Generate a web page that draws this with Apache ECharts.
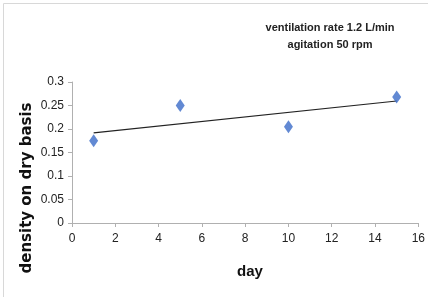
<!DOCTYPE html>
<html>
<head>
<meta charset="utf-8">
<script src="https://cdn.jsdelivr.net/npm/echarts@6/dist/echarts.min.js"></script>
<style>
html,body{margin:0;padding:0;background:#fff;}
#chart{width:428px;height:297px;}
</style>
</head>
<body>
<div id="chart"></div>
<script>
var days = [1, 5, 10, 15];
var density = [0.175, 0.25, 0.205, 0.268];
var xTicks = [0, 2, 4, 6, 8, 10, 12, 14, 16];
var yTicks = [0, 0.05, 0.1, 0.15, 0.2, 0.25, 0.3];
var note = ['ventilation rate 1.2 L/min', 'agitation 50 rpm'];

// linear trendline (least squares) from the points
var n = days.length, mx = 0, my = 0;
for (var i = 0; i < n; i++) { mx += days[i]; my += density[i]; }
mx /= n; my /= n;
var sxx = 0, sxy = 0;
for (var i = 0; i < n; i++) { sxx += (days[i]-mx)*(days[i]-mx); sxy += (days[i]-mx)*(density[i]-my); }
var slope = sxy / sxx, icpt = my - slope * mx;
var trend = [[days[0], icpt + slope*days[0]], [days[n-1], icpt + slope*days[n-1]]];

var font = '"Liberation Sans Narrow", "Liberation Sans", Arial, sans-serif';
var myChart = echarts.init(document.getElementById('chart'));
var option = {
    animation: false,
    grid: { left: 72, right: 8, top: 82, bottom: 74 },
    xAxis: {
        type: 'value', min: 0, max: 16, interval: 2,
        axisLine: { lineStyle: { color: '#b0b0b0' } },
        axisTick: { show: true, length: 4, lineStyle: { color: '#b0b0b0' } },
        axisLabel: { color: '#222', fontSize: 12, fontFamily: font, margin: 10 },
        splitLine: { show: false }
    },
    yAxis: {
        type: 'value', min: 0, max: 0.3, interval: 0.05,
        axisLine: { show: true, lineStyle: { color: '#b0b0b0' } },
        axisTick: { show: true, length: 4, lineStyle: { color: '#b0b0b0' } },
        axisLabel: { color: '#222', fontSize: 12, fontFamily: font, margin: 8,
            formatter: function (v) { return String(Math.round(v*100)/100); } },
        splitLine: { show: false }
    },
    graphic: [
        { type: 'rect', shape: { x: 3.5, y: 3.5, width: 430, height: 300 },
          style: { fill: 'none', stroke: '#d8d8d8', lineWidth: 1 } },
        { type: 'text', x: 330, y: 28, style: { text: note[0], fill: '#222', font: 'bold 11px ' + font, textAlign: 'center', textVerticalAlign: 'middle' } },
        { type: 'text', x: 330, y: 45, style: { text: note[1], fill: '#222', font: 'bold 11px ' + font, textAlign: 'center', textVerticalAlign: 'middle' } },
        { type: 'text', x: 250, y: 272, style: { text: 'day', fill: '#111', font: 'bold 15px ' + font, textAlign: 'center', textVerticalAlign: 'middle' } },
        { type: 'text', x: 27, y: 188, rotation: Math.PI/2,
          style: { text: 'density on dry basis', fill: '#111', font: 'bold 15px "DejaVu Sans", sans-serif', textAlign: 'center', textVerticalAlign: 'middle' } }
    ],
    series: [
        { type: 'line', data: trend, symbol: 'none', lineStyle: { color: '#222', width: 1.2 }, z: 1 },
        { type: 'scatter', data: days.map(function (d, i) { return [d, density[i]]; }),
          symbol: 'diamond', symbolSize: [9, 13], itemStyle: { color: '#3b6cc8' }, z: 2 }
    ]
};
myChart.setOption(option);
</script>
</body>
</html>
